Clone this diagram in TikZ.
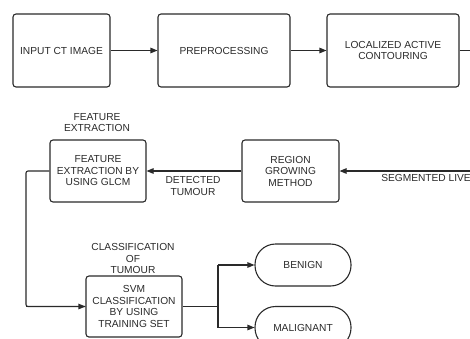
\documentclass[tikz,border=0pt]{standalone}
\usepackage{fontspec}
\setmainfont{Liberation Sans}
\usetikzlibrary{arrows.meta}
\definecolor{ln}{HTML}{2A2A2A}
\begin{document}
\begin{tikzpicture}[x=1pt,y=-1pt,
  every node/.style={font=\fontsize{10.2}{11.5}\selectfont, text=ln},
  box/.style={draw=ln, line width=1.1pt, rounded corners=3pt, align=center, inner sep=1pt},
  term/.style={draw=ln, line width=1.1pt, rounded corners=20.5pt, align=center, minimum width=96pt, minimum height=42pt},
  lbl/.style={align=center, inner sep=0pt},
  conn/.style={draw=ln, line width=1.1pt},
  arr/.style={conn, -{Triangle[length=7pt,width=5.5pt]}}]
\useasboundingbox (0,0) rectangle (470,338);
\node[box, minimum width=97pt, minimum height=73pt] (input) at (61.5,50.5) {INPUT CT IMAGE};
\node[box, minimum width=132pt, minimum height=73pt] (pre) at (224,50.5) {PREPROCESSING};
\node[box, minimum width=132pt, minimum height=73pt] (lac) at (393,50.5) {LOCALIZED ACTIVE\\CONTOURING};
\coordinate (outR) at (472,50.5);
\node[box, minimum width=96pt, minimum height=62pt] (feat) at (98,171) {FEATURE\\EXTRACTION BY\\USING GLCM};
\node[box, minimum width=97pt, minimum height=62pt] (reg) at (290.5,171) {REGION\\GROWING\\METHOD};
\coordinate (inR) at (472,171);
\node[box, minimum width=96pt, minimum height=61pt] (svm) at (134,306.5) {SVM\\CLASSIFICATION\\BY USING\\TRAINING SET};
\node[term] (ben) at (303,265) {BENIGN};
\node[term] (mal) at (303,327.5) {MALIGNANT};
\node[lbl] (lfe) at (97,122.5) {FEATURE\\EXTRACTION};
\node[lbl] (ldt) at (193,186) {DETECTED\\TUMOUR};
\node[lbl, anchor=base east] (lsl) at (471,181) {SEGMENTED LIVE};
\node[lbl] (lct) at (133,258.5) {CLASSIFICATION\\OF\\TUMOUR};
\coordinate (c1) at (26,171);
\coordinate (c2) at (26,306.5);
\coordinate (br) at (218,306.5);
\coordinate (bt) at (218,265);
\coordinate (bb) at (218,327.5);
\draw[arr] (input) -- (pre);
\draw[arr] (pre) -- (lac);
\draw[conn] (lac) -- (outR);
\draw[arr] (inR) -- (reg);
\draw[arr] (reg) -- (feat);
\draw[conn, rounded corners=2pt] (feat.west) -- (c1) -- (c2) -- (svm.west);
\draw[arr] (c2) -- (svm.west);
\draw[conn] (svm.east) -- (br);
\draw[conn, rounded corners=2pt] (bt) -- (bb);
\draw[arr] (bt) -- (ben);
\draw[arr] (bb) -- (mal);
\end{tikzpicture}
\end{document}
